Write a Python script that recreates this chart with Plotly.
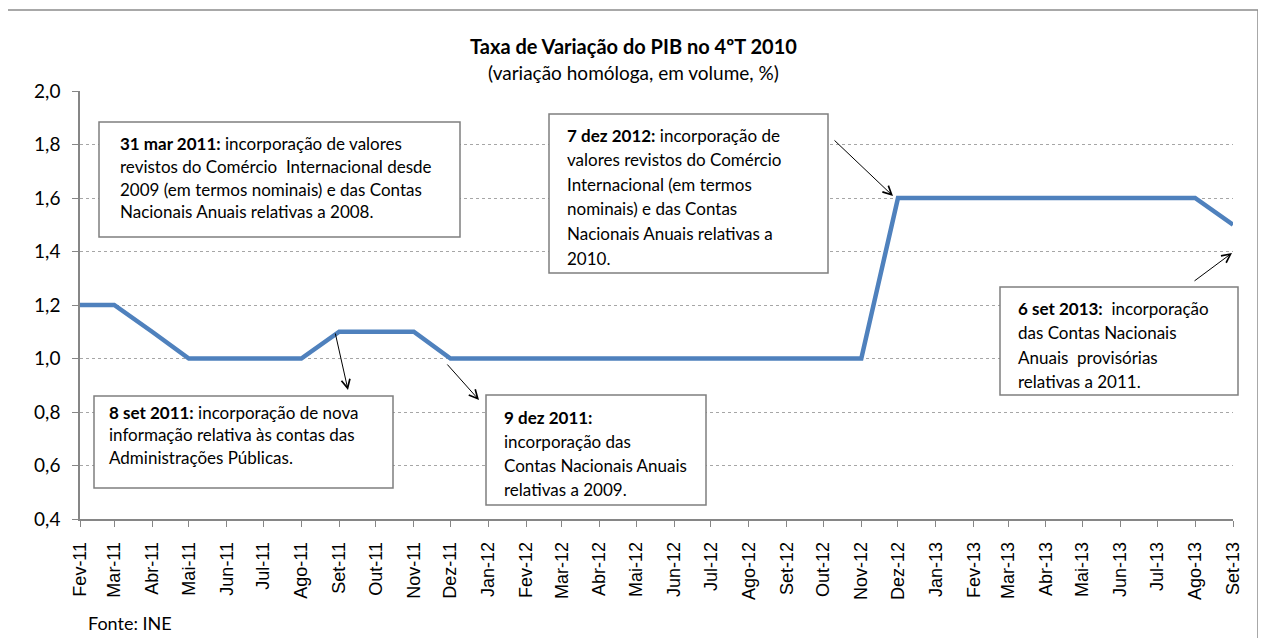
import plotly.graph_objects as go
import pandas as pd

# ---- data ----
month_labels = ["Fev-11", "Mar-11", "Abr-11", "Mai-11", "Jun-11", "Jul-11", "Ago-11", "Set-11",
                "Out-11", "Nov-11", "Dez-11", "Jan-12", "Fev-12", "Mar-12", "Abr-12", "Mai-12",
                "Jun-12", "Jul-12", "Ago-12", "Set-12", "Out-12", "Nov-12", "Dez-12", "Jan-13",
                "Fev-13", "Mar-13", "Abr-13", "Mai-13", "Jun-13", "Jul-13", "Ago-13", "Set-13"]
month_dates = list(pd.date_range("2011-02-01", periods=len(month_labels), freq="MS"))
pib_values = [1.2, 1.2, 1.1, 1.0, 1.0, 1.0, 1.0, 1.1,
              1.1, 1.1, 1.0, 1.0, 1.0, 1.0, 1.0, 1.0,
              1.0, 1.0, 1.0, 1.0, 1.0, 1.0, 1.6, 1.6,
              1.6, 1.6, 1.6, 1.6, 1.6, 1.6, 1.6, 1.5]
y_ticks = [0.4, 0.6, 0.8, 1.0, 1.2, 1.4, 1.6, 1.8, 2.0]

title = "<b>Taxa de Variação do PIB no 4ºT 2010</b>"
subtitle = "(variação homóloga, em volume, %)"
source = "Fonte: INE"

notes = [
    ["<b>31 mar 2011:</b> incorporação de valores",
     "revistos do Comércio  Internacional desde",
     "2009 (em termos nominais) e das Contas",
     "Nacionais Anuais relativas a 2008."],
    ["<b>7 dez 2012:</b> incorporação de",
     "valores revistos do Comércio",
     "Internacional (em termos",
     "nominais) e das Contas",
     "Nacionais Anuais relativas a",
     "2010."],
    ["<b>6 set 2013:</b>  incorporação",
     "das Contas Nacionais",
     "Anuais  provisórias",
     "relativas a 2011."],
    ["<b>8 set 2011:</b> incorporação de nova",
     "informação relativa às contas das",
     "Administrações Públicas."],
    ["<b>9 dez 2011:</b>",
     "incorporação das",
     "Contas Nacionais Anuais",
     "relativas a 2009."],
]

# ---- layout geometry (reference pixels; page is offset by 8px body margin) ----
OFF = 8
W, H = 1252, 630
L, R, T, B = 80, 1233, 91, 519
FONT = "Lato"


def px(x):
    return (x - L) / (R - L)


def py(y):
    return (B - y) / (B - T)


fig = go.Figure()
fig.add_trace(go.Scatter(x=month_dates, y=pib_values, mode="lines",
                         line=dict(color="#4F81BD", width=4.5), hoverinfo="skip",
                         showlegend=False))

annotations = []
annotations.append(dict(text=title, x=px(633), y=py(46), xref="paper", yref="paper",
                        showarrow=False, font=dict(family=FONT, size=20, color="black"),
                        xanchor="center", yanchor="middle"))
annotations.append(dict(text=subtitle, x=px(633), y=py(73), xref="paper", yref="paper",
                        showarrow=False, font=dict(family=FONT, size=19, color="black"),
                        xanchor="center", yanchor="middle"))
annotations.append(dict(text=source, x=px(88), y=py(623), xref="paper", yref="paper",
                        showarrow=False, font=dict(family=FONT, size=18, color="black"),
                        xanchor="left", yanchor="middle", xshift=-2))

# text boxes: (left, top, right, bottom, text_left, first_line_centre, line_spacing)
boxes = [
    (99, 122, 460, 237, 118, 143, 23.0),
    (549, 114, 828, 273, 565, 135, 24.6),
    (1000, 287, 1238, 395, 1016, 308, 24.6),
    (94, 396, 393, 488, 107, 412, 22.7),
    (486, 395, 706, 505, 502, 417, 24.0),
]
shapes = [dict(type="rect", xref="paper", yref="paper",
               x0=px(7), x1=px(1258), y0=py(680), y1=py(10),
               line=dict(color="#8C8C8C", width=1.5), fillcolor="rgba(0,0,0,0)", layer="below")]
for lines, (x0, y0, x1, y1, tx, c0, dy) in zip(notes, boxes):
    shapes.append(dict(type="rect", xref="paper", yref="paper",
                       x0=px(x0), x1=px(x1), y0=py(y1), y1=py(y0),
                       line=dict(color="#7F7F7F", width=1.5), fillcolor="white", layer="above"))
    for i, ln in enumerate(lines):
        annotations.append(dict(text=ln, x=px(tx), y=py(c0 + i * dy), xref="paper", yref="paper",
                                xanchor="left", yanchor="middle", showarrow=False,
                                font=dict(family=FONT, size=17, color="black")))

# arrows: (tail_x, tail_y, head_x, head_y) in reference px
arrows = [
    (833, 139, 893, 196),
    (1193, 282, 1232, 253),
    (335, 332, 348, 390),
    (446, 363, 479, 400),
]
for tx, ty, hx, hy in arrows:
    annotations.append(dict(text="", x=px(hx), y=py(hy), xref="paper", yref="paper",
                            ax=tx - hx, ay=ty - hy, axref="pixel", ayref="pixel",
                            showarrow=True, arrowhead=5, arrowsize=1.7, arrowwidth=1,
                            arrowcolor="black"))

fig.update_layout(
    width=W, height=H, autosize=False,
    margin=dict(l=L - OFF, r=W - (R - OFF), t=T - OFF, b=H - (B - OFF)),
    paper_bgcolor="white", plot_bgcolor="white",
    separators=", ",
    annotations=annotations, shapes=shapes,
    xaxis=dict(type="date", range=[month_dates[0], month_dates[-1]],
               tickmode="array", tickvals=month_dates, ticktext=month_labels,
               tickangle=-90, tickfont=dict(family="Liberation Sans", size=18, color="black"),
               showline=True, linecolor="#868686", linewidth=1.5,
               ticks="outside", ticklen=6, tickcolor="#868686", ticklabelstandoff=8,
               showgrid=False, zeroline=False),
    yaxis=dict(range=[0.4, 2.0], tickmode="array", tickvals=y_ticks, tickformat=".1f",
               tickfont=dict(family=FONT, size=19, color="black"),
               showline=True, linecolor="#868686", linewidth=1.5,
               ticks="outside", ticklen=6, tickcolor="#868686", ticklabelstandoff=8,
               showgrid=True, gridcolor="#A6A6A6", griddash="dot", gridwidth=1,
               zeroline=False),
)

fig.write_html("out.html")
